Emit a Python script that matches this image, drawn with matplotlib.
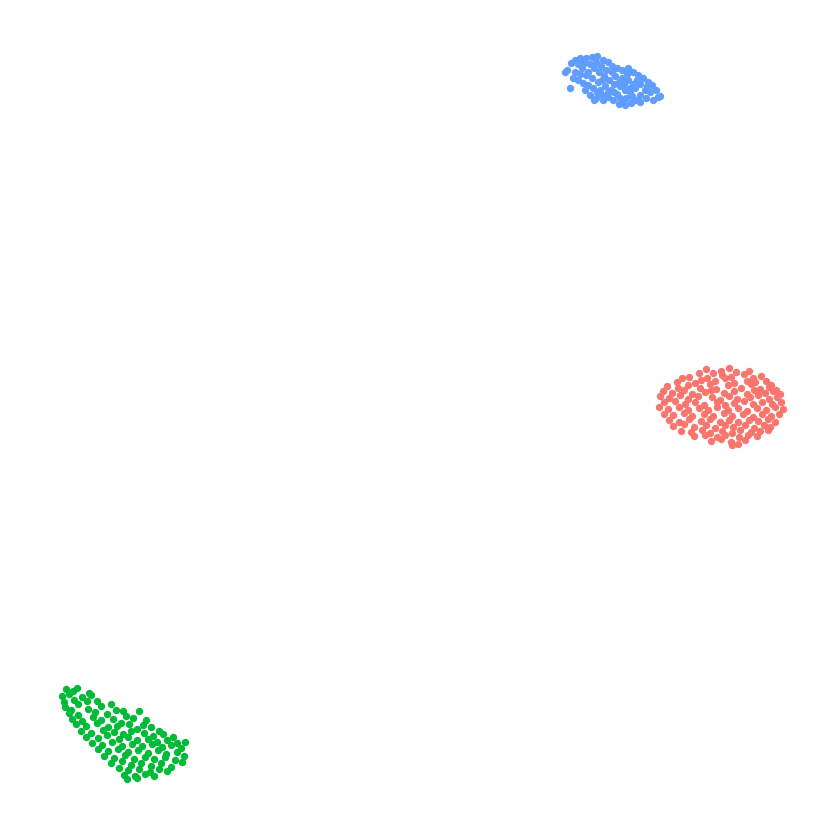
import matplotlib
matplotlib.use('Agg')
import matplotlib.pyplot as plt
import numpy as np

# t-SNE style embedding, three clusters
red_pts = [
    (28.6, 5.1), (29.3, 4.7), (30.1, 4.9), (30.9, 5.2), (31.6, 4.8), (32.9, 4.9),
    (26.9, 4.3), (27.9, 4.7), (28.7, 4.2), (30.2, 4.5), (31.1, 4.3), (32.4, 4.6), (33.3, 4.2), (34.1, 4.4),
    (25.7, 3.8), (26.2, 4.2), (27.5, 3.7), (28.1, 4.0), (29.5, 3.9), (30.5, 4.2), (31.4, 3.7),
    (32.7, 3.9), (33.5, 3.8), (34.6, 3.9), (35.1, 3.5),
    (24.7, 3.4), (25.8, 3.2), (26.8, 3.5), (28.0, 3.2), (29.0, 3.6), (29.6, 3.1), (30.8, 3.5),
    (32.1, 3.2), (33.1, 3.6), (34.0, 3.1), (34.9, 3.3), (35.6, 3.0),
    (24.3, 2.9), (25.2, 2.7), (26.4, 3.0), (27.2, 2.6), (28.5, 2.8), (29.1, 3.0), (30.4, 2.7),
    (31.4, 2.9), (32.7, 2.6), (33.4, 3.0), (34.5, 2.7), (35.3, 2.9), (36.0, 2.6),
    (24.0, 2.4), (24.9, 2.2), (26.0, 2.5), (26.8, 2.1), (27.8, 2.4), (29.2, 2.3), (30.0, 2.0),
    (30.9, 2.4), (31.7, 2.1), (33.0, 2.3), (33.8, 2.5), (34.9, 2.1), (35.7, 2.3),
    (24.4, 1.8), (25.5, 1.9), (26.5, 1.6), (27.5, 1.8), (28.4, 1.5), (29.7, 1.8), (30.5, 1.5),
    (31.4, 1.7), (32.4, 1.9), (33.3, 1.6), (34.2, 1.8), (35.2, 1.6), (36.1, 1.8),
    (23.9, 1.3), (24.8, 1.1), (25.9, 1.3), (26.8, 1.0), (27.9, 1.2), (28.8, 1.0), (29.7, 1.3),
    (30.8, 1.0), (31.8, 1.2), (32.7, 0.9), (33.7, 1.2), (34.6, 1.0), (35.5, 1.3), (36.3, 1.1),
    (24.4, 0.6), (25.3, 0.5), (26.4, 0.7), (27.2, 0.4), (28.4, 0.6), (29.3, 0.4), (30.4, 0.7),
    (31.2, 0.4), (32.3, 0.6), (33.3, 0.3), (34.2, 0.6), (35.1, 0.4), (35.9, 0.6),
    (24.9, 0.0), (25.9, -0.2), (26.9, 0.1), (28.1, -0.1), (29.0, 0.1), (30.0, -0.2), (30.9, 0.0),
    (31.8, -0.2), (32.9, 0.0), (33.8, -0.1), (34.8, 0.1), (35.5, -0.2),
    (25.3, -0.6), (26.4, -0.4), (27.4, -0.7), (28.6, -0.5), (29.5, -0.8), (30.5, -0.5), (31.3, -0.7),
    (32.5, -0.5), (33.4, -0.8), (34.4, -0.5), (35.0, -0.7),
    (26.1, -1.1), (27.1, -1.2), (28.2, -1.0), (29.0, -1.3), (30.2, -1.1), (31.2, -1.3), (32.0, -1.0),
    (33.1, -1.2), (34.0, -1.1), (34.8, -1.0),
    (27.4, -1.6), (28.5, -1.5), (29.7, -1.7), (30.5, -1.5), (31.9, -1.7), (32.8, -1.5), (33.7, -1.6),
    (29.1, -2.1), (30.1, -1.9), (31.1, -2.2), (32.5, -2.0),
    (31.2, -2.5), (31.8, -2.4),
]

green_pts = [
    (-35.4, -26.9), (-34.7, -27.1), (-34.3, -26.8), (-33.1, -27.3),
    (-35.8, -27.6), (-35.1, -27.4), (-33.8, -27.7), (-32.9, -27.5), (-32.3, -28.1),
    (-35.6, -28.2), (-34.6, -28.0), (-34.2, -28.4), (-33.3, -28.1),
    (-35.5, -28.7), (-34.9, -29.0), (-33.2, -28.9), (-31.9, -28.6), (-30.9, -28.4), (-30.4, -29.0), (-29.7, -29.1),
    (-35.1, -29.3), (-34.2, -29.5), (-32.5, -29.2), (-31.3, -29.4), (-29.4, -29.6), (-28.1, -29.1),
    (-34.8, -29.9), (-33.8, -30.1), (-32.7, -29.7), (-31.9, -30.0), (-30.7, -29.9), (-29.9, -30.3),
    (-28.7, -29.8), (-27.4, -30.0),
    (-34.4, -30.4), (-33.4, -30.6), (-32.3, -30.3), (-31.2, -30.7), (-30.3, -30.6), (-29.1, -30.4),
    (-28.3, -30.9), (-27.7, -30.5), (-26.9, -30.7), (-26.1, -31.1),
    (-33.9, -31.1), (-32.9, -31.3), (-31.7, -31.0), (-30.6, -31.2), (-29.7, -31.4), (-28.9, -31.1),
    (-27.6, -31.3), (-26.7, -31.6), (-25.7, -31.4), (-24.7, -31.7),
    (-33.4, -31.7), (-32.2, -31.8), (-31.3, -31.5), (-30.1, -31.9), (-29.2, -31.7), (-28.3, -32.0),
    (-27.2, -31.9), (-26.3, -32.2), (-25.3, -32.0), (-24.3, -32.3),
    (-32.8, -32.3), (-31.8, -32.5), (-30.8, -32.2), (-29.8, -32.6), (-28.8, -32.4), (-27.8, -32.6),
    (-26.8, -32.4), (-25.8, -32.7), (-24.9, -32.5), (-23.9, -32.8), (-23.5, -32.2),
    (-32.2, -32.9), (-31.2, -33.1), (-30.2, -32.9), (-29.2, -33.2), (-28.2, -33.0), (-27.2, -33.3),
    (-26.2, -33.0), (-25.4, -33.4), (-24.3, -33.2), (-23.6, -33.6),
    (-31.6, -33.6), (-30.6, -33.8), (-29.5, -33.5), (-28.6, -33.9), (-27.5, -33.7), (-26.6, -33.9),
    (-25.5, -33.7), (-24.5, -34.0), (-23.8, -34.2),
    (-30.9, -34.3), (-29.8, -34.1), (-28.9, -34.5), (-27.9, -34.3), (-26.9, -34.6), (-25.9, -34.3),
    (-24.9, -34.7),
    (-30.1, -34.8), (-29.2, -35.0), (-28.1, -34.9), (-27.0, -35.2), (-26.1, -34.9), (-25.3, -35.1),
    (-29.6, -35.5), (-28.5, -35.6), (-27.5, -35.4), (-26.6, -35.6),
    (-29.3, -35.9), (-28.3, -35.8),
]

blue_pts = [
    (14.7, 35.0), (15.1, 35.7), (15.5, 36.0), (16.0, 36.2), (16.6, 36.2), (17.2, 36.3), (17.7, 36.4),
    (18.3, 36.0), (18.8, 35.8), (19.2, 35.4), (19.7, 35.2), (20.2, 35.0), (20.8, 35.2), (21.3, 34.8),
    (21.8, 34.5), (22.3, 34.2), (22.8, 33.8), (23.2, 33.5), (23.6, 33.0), (23.8, 32.3), (23.3, 32.0),
    (22.6, 32.2), (22.0, 32.5), (21.6, 32.0), (21.1, 31.7), (20.5, 31.5), (19.9, 31.6), (19.3, 32.0),
    (18.8, 32.3), (18.2, 32.5), (17.7, 32.8), (17.3, 33.2), (16.8, 33.5), (16.3, 33.7), (15.8, 34.0),
    (15.3, 34.2), (15.0, 33.2), (15.5, 34.8), (16.2, 35.2), (16.8, 34.8), (17.4, 35.2), (17.9, 34.8),
    (18.4, 34.4), (18.9, 34.0), (19.4, 33.6), (20.0, 33.4), (20.5, 33.0), (21.0, 32.8), (21.5, 33.2),
    (22.0, 33.6), (22.5, 33.0), (23.0, 32.8), (19.7, 32.6), (19.1, 33.0), (18.5, 33.4), (17.8, 33.8),
    (17.2, 34.2), (16.6, 34.5), (16.0, 34.6), (17.0, 35.6), (17.6, 35.8), (18.1, 35.4), (18.6, 35.0),
    (19.5, 34.4), (20.2, 34.2), (20.8, 34.0), (21.3, 33.6), (20.6, 32.2), (20.0, 32.2), (19.4, 32.8),
    (20.2, 31.8), (21.2, 32.4), (21.7, 34.0), (19.2, 34.8), (16.5, 33.0), (17.0, 32.5), (17.6, 32.2),
    (18.3, 32.0), (17.4, 32.0), (18.0, 33.0), (15.8, 35.6), (14.5, 34.8), (16.4, 35.7), (18.2, 34.0),
    (18.8, 32.8), (22.0, 31.8), (22.7, 33.4), (20.7, 34.6), (19.9, 33.8), (20.4, 33.6), (21.0, 33.2),
    (24.0, 32.4),
]

clusters = [('1', red_pts, '#F8766D'), ('2', green_pts, '#00BA38'), ('3', blue_pts, '#619CFF')]

fig = plt.figure(figsize=(8.4, 8.4), dpi=100)
ax = fig.add_axes([0, 0, 1, 1])
for name, pts, col in clusters:
    arr = np.array(pts)
    ax.scatter(arr[:, 0], arr[:, 1], s=28, color=col, linewidths=0, label=name)

ax.set_xlim(-42, 42)
ax.set_ylim(-42, 42)
ax.axis('off')

fig.savefig('out.png', dpi=100, facecolor='white')
